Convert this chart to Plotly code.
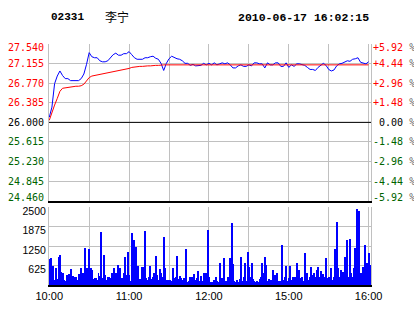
import plotly.graph_objects as go

# ---------------- data ----------------
CODE = "02331"
NAME = "李宁"
STAMP = "2010-06-17 16:02:15"
PREV_CLOSE = 26.0

PRICE_TICKS = [27.540, 27.155, 26.770, 26.385, 26.000, 25.615, 25.230, 24.845, 24.460]
VOL_TICKS = [625, 1250, 1875, 2500]
VOL_MAX = 2500
TIME_TICKS = [0, 30, 60, 90, 120, 150, 180, 210, 240]
TIME_LABELS = ["10:00", "", "11:00", "", "12:00", "", "15:00", "", "16:00"]

# minutes after 10:00 (trading minutes), price sampled every 2 minutes
PRICE_MINUTES = list(range(0, 241, 2))
PRICE = [
    26.10, 26.30, 26.76, 26.91, 27.01, 26.92, 26.86, 26.86, 26.82, 26.82,
    26.82, 26.82, 26.86, 26.95, 27.14, 27.37, 27.29, 27.27, 27.27, 27.21,
    27.19, 27.19, 27.21, 27.27, 27.33, 27.36, 27.32, 27.32, 27.35, 27.35,
    27.39, 27.33, 27.27, 27.24, 27.24, 27.24, 27.27, 27.27, 27.29, 27.30,
    27.26, 27.24, 27.16, 27.02, 27.16, 27.25, 27.30, 27.27, 27.25, 27.24,
    27.21, 27.16, 27.16, 27.12, 27.14, 27.11, 27.11, 27.12, 27.16, 27.13,
    27.16,
    27.13, 27.17, 27.13, 27.15, 27.17, 27.15, 27.17, 27.13, 27.07, 27.07,
    27.11, 27.13, 27.10, 27.10, 27.13, 27.11, 27.17, 27.17, 27.15, 27.15,
    27.07, 27.17, 27.13, 27.13, 27.17, 27.17, 27.10, 27.10, 27.17, 27.08,
    27.13, 27.10, 27.15, 27.15, 27.13, 27.12, 27.08, 27.04, 27.04, 27.02,
    27.08, 27.13, 27.16, 27.12, 27.04, 27.01, 27.03, 27.11, 27.15, 27.16,
    27.19, 27.21, 27.20, 27.24, 27.25, 27.27, 27.18, 27.17, 27.15, 27.19,
]
AVG_PRICE = [
    26.04, 26.20, 26.34, 26.47, 26.61, 26.67, 26.68, 26.69, 26.70, 26.70,
    26.71, 26.71, 26.72, 26.75, 26.82, 26.88, 26.91, 26.92, 26.93, 26.95,
    26.96, 26.97, 26.98, 26.99, 27.00, 27.00, 27.01, 27.02, 27.04, 27.05,
    27.06, 27.08, 27.09, 27.10, 27.10, 27.10, 27.11, 27.11, 27.11, 27.12,
    27.12, 27.12,
    27.13, 27.13, 27.13, 27.13, 27.13, 27.13, 27.13, 27.13, 27.13, 27.13,
    27.13, 27.13, 27.13, 27.13, 27.13, 27.13, 27.13, 27.13, 27.13, 27.13,
    27.13, 27.13, 27.13, 27.13, 27.13, 27.13, 27.13, 27.13, 27.13, 27.13,
    27.13, 27.13, 27.13, 27.13, 27.13, 27.13, 27.13, 27.13, 27.13, 27.13,
    27.13, 27.13, 27.13, 27.13, 27.13, 27.13, 27.13, 27.13, 27.13, 27.13,
    27.13, 27.13, 27.13, 27.13, 27.13, 27.13, 27.13, 27.13, 27.13, 27.13,
    27.13, 27.13, 27.13, 27.13, 27.13, 27.13, 27.13, 27.13, 27.13, 27.13,
    27.13, 27.13, 27.13, 27.13, 27.13, 27.13, 27.13, 27.13, 27.13,
]

VOL_MINUTES = list(range(0, 242))
VOLUME = [
    812, 865, 264, 612, 158, 527, 179, 897, 970, 422,
    390, 158, 105, 316, 211, 348, 496, 105, 285, 264,
    264, 137, 348, 264, 527, 369, 232, 1181, 527, 390,
    1160, 527, 475, 179, 232, 211, 158, 390, 295, 1688,
    211, 970, 316, 137, 264, 243, 232, 369, 390, 527,
    369, 264, 633, 527, 158, 211, 369, 897, 316, 1055,
    316, 105, 1656, 264, 1424, 1213, 316, 612, 179, 105,
    580, 559, 1720, 211, 137, 264, 612, 179, 264, 369,
    918, 316, 158, 496, 369, 243, 1530, 527, 137, 137,
    105, 137, 105, 527, 211, 264, 918, 179, 285, 211,
    158, 211, 137, 1160, 74, 105, 264, 264, 211, 348,
    158, 211, 454, 105, 285, 105, 390, 158, 390, 1762,
    264,
    74, 74, 74, 137, 264, 105, 74, 707, 105, 211,
    865, 74, 105, 264, 105, 844, 1973, 654, 105, 74,
    137, 74, 179, 897, 105, 264, 686, 105, 1055, 580,
    264, 686, 179, 105, 74, 105, 74, 179, 264, 686,
    369, 897, 633, 105, 179, 105, 158, 475, 158, 316,
    390, 105, 105, 105, 1287, 158, 264, 612, 105, 211,
    612, 158, 264, 105, 264, 686, 105, 475, 211, 264,
    105, 1023, 179, 369, 158, 264, 559, 316, 369, 264,
    475, 559, 264, 454, 211, 348, 264, 844, 211, 264,
    158, 527, 158, 264, 1160, 2004, 527, 264, 475, 264,
    422, 897, 264, 1424, 264, 1456, 369, 264, 527, 1192,
    2448, 1319, 2374, 369, 264, 580, 1266, 316, 707, 1023, 633,
]

# ---------------- layout constants ----------------
W, H = 414, 314
ML, MR, MT, MB = 49, 43, 44, 26
PW, PH = W - ML - MR, H - MT - MB
PRICE_BOTTOM_PX = 202.7
VOL_TOP_PX = 209.3

def px_x(x):
    return (x - ML) / PW

def px_y(y):
    return (H - MB - y) / PH

GRID = "#C0C0C0"
RED = "#FF0000"
GREEN = "#006400"
BLUE = "#0000FF"
MONO = "DejaVu Sans Mono"

fig = go.Figure()
fig.add_trace(go.Scatter(x=PRICE_MINUTES[:len(PRICE)], y=PRICE, mode="lines",
                         line=dict(color=BLUE, width=1), xaxis="x", yaxis="y",
                         hoverinfo="skip"))
fig.add_trace(go.Scatter(x=PRICE_MINUTES[:len(AVG_PRICE)], y=AVG_PRICE, mode="lines",
                         line=dict(color=RED, width=1), xaxis="x", yaxis="y",
                         hoverinfo="skip"))
fig.add_trace(go.Bar(x=VOL_MINUTES[:len(VOLUME)], y=VOLUME, width=0.75,
                     marker=dict(color=BLUE, line=dict(width=0)),
                     xaxis="x2", yaxis="y2", hoverinfo="skip"))

xrange = [-0.2, 241.8]
fig.update_layout(
    width=W, height=H,
    margin=dict(l=ML, r=MR, t=MT, b=MB, pad=0),
    paper_bgcolor="white", plot_bgcolor="white",
    showlegend=False, bargap=0,
    font=dict(family="Liberation Sans", size=11, color="black"),
    xaxis=dict(domain=[0, 1], range=xrange, anchor="y",
               tickvals=TIME_TICKS, showticklabels=False, ticks="",
               showgrid=True, gridcolor=GRID, gridwidth=1, zeroline=False,
               showline=True, linecolor="black", linewidth=2, mirror=False),
    xaxis2=dict(domain=[0, 1], range=xrange, anchor="y2", matches="x",
                tickvals=TIME_TICKS, ticktext=TIME_LABELS, ticks="",
                tickfont=dict(family="Liberation Sans", size=11, color="black"),
                showgrid=True, gridcolor=GRID, gridwidth=1, zeroline=False,
                showline=True, linecolor="black", linewidth=2, mirror=False),
    yaxis=dict(domain=[px_y(PRICE_BOTTOM_PX), 1],
               range=[PRICE_TICKS[-1], PRICE_TICKS[0]],
               tickvals=PRICE_TICKS, showticklabels=False, ticks="",
               showgrid=True, gridcolor=GRID, gridwidth=1, zeroline=False,
               showline=True, linecolor=GRID, linewidth=1, mirror=True),
    yaxis2=dict(domain=[0, px_y(VOL_TOP_PX)], range=[0, VOL_MAX],
                tickvals=VOL_TICKS, ticks="", ticklabelshift=4,
                tickfont=dict(family="Liberation Sans", size=10.5, color="black"),
                showgrid=True, gridcolor=GRID, gridwidth=1, zeroline=False,
                showline=True, linecolor=GRID, linewidth=1, mirror=True),
)

# previous-close line
fig.add_shape(type="line", xref="x domain", x0=0, x1=1, yref="y",
              y0=PREV_CLOSE, y1=PREV_CLOSE, line=dict(color="black", width=1))

anns = []
for i, p in enumerate(PRICE_TICKS):
    if p > PREV_CLOSE + 1e-9:
        col, sign = RED, "+"
    elif p < PREV_CLOSE - 1e-9:
        col, sign = GREEN, "-"
    else:
        col, sign = "black", "\u00a0"
    shift = -3.5 if i == 0 else (3 if i == len(PRICE_TICKS) - 1 else 0)
    pct = abs(p - PREV_CLOSE) / PREV_CLOSE * 100
    anns.append(dict(text=f"{p:.3f}", xref="paper", x=0, xanchor="right", xshift=-4,
                     yref="y", y=p, yanchor="middle", yshift=shift, showarrow=False,
                     borderpad=0, font=dict(family=MONO, size=10, color=col)))
    anns.append(dict(text=f'{sign}{pct:.2f}\u00a0<span style="color:#666666">%</span>',
                     xref="paper", x=1, xanchor="left", xshift=1,
                     yref="y", y=p, yanchor="middle", yshift=shift, showarrow=False,
                     borderpad=0, font=dict(family=MONO, size=10, color=col)))

# header
anns.append(dict(text=f"<b>{CODE}</b>", xref="paper", yref="paper", x=px_x(50), y=px_y(17),
                 xanchor="left", yanchor="middle", showarrow=False, borderpad=0,
                 font=dict(family="Liberation Mono", size=11, color="black")))
anns.append(dict(text=NAME, xref="paper", yref="paper", x=px_x(104), y=px_y(16),
                 xanchor="left", yanchor="middle", showarrow=False, borderpad=0,
                 font=dict(family="Noto Sans CJK SC", size=12, color="black")))
anns.append(dict(text=f"<b>{STAMP}</b>", xref="paper", yref="paper", x=px_x(369.5), y=px_y(17),
                 xanchor="right", yanchor="middle", showarrow=False, borderpad=0,
                 font=dict(family="Liberation Mono", size=11.5, color="black")))
fig.update_layout(annotations=anns)

fig.write_html("out.html")
